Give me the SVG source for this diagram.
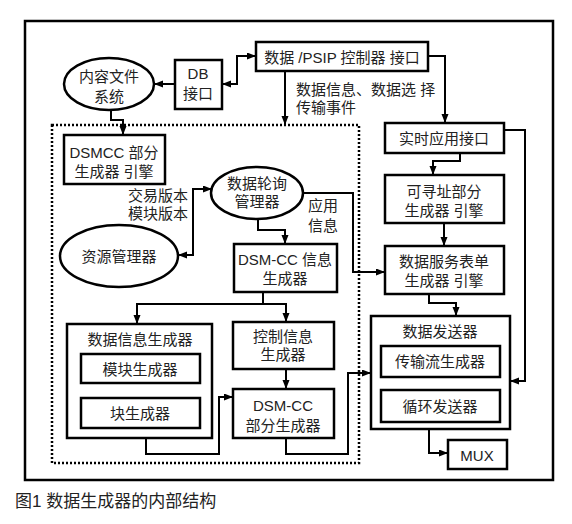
<svg xmlns="http://www.w3.org/2000/svg" width="572" height="524" viewBox="0 0 572 524">
<style>
.b{fill:#fff;stroke:#000;stroke-width:2.5}
.t{font-family:"Liberation Sans","Noto Sans CJK SC",sans-serif;font-size:15px;fill:#222;text-anchor:middle;dominant-baseline:central}
.l{text-anchor:start}
.r{text-anchor:end}
.c{fill:none;stroke:#000;stroke-width:2}
</style>
<defs>
<marker id="a" markerUnits="userSpaceOnUse" markerWidth="10" markerHeight="8" refX="9" refY="3.5" orient="auto-start-reverse">
<path d="M0,0 L9,3.5 L0,7 z" fill="#000"/>
</marker>
</defs>
<rect width="572" height="524" fill="#fff"/>
<rect x="25" y="21" width="528" height="459" fill="none" stroke="#000" stroke-width="2.5"/>
<rect x="52" y="125" width="307" height="338" fill="none" stroke="#000" stroke-width="2.5" stroke-dasharray="2 2"/>

<g id="connectors">
<path class="c" d="M222,84 H237 V56 H256" marker-start="url(#a)" marker-end="url(#a)"/>
<path class="c" d="M175,84 H154" marker-end="url(#a)"/>
<path class="c" d="M285,71 V125" marker-end="url(#a)"/>
<path class="c" d="M428,56 H445 V123" marker-end="url(#a)"/>
<path class="c" d="M460,153 V161 H433 V175" marker-end="url(#a)"/>
<path class="c" d="M504,130 H525 V381 H510" marker-end="url(#a)"/>
<path class="c" d="M444,223 V246" marker-end="url(#a)"/>
<path class="c" d="M429,294 V303 H456 V316" marker-end="url(#a)"/>
<path class="c" d="M440,377 V390" marker-end="url(#a)"/>
<path class="c" d="M429,429 V453 H448" marker-end="url(#a)"/>
<path class="c" d="M111,110 V120 H123 V135" marker-end="url(#a)"/>
<path class="c" d="M178,255 H193 V189 H212" marker-start="url(#a)" marker-end="url(#a)"/>
<path class="c" d="M258,219 V230 H285 V244" marker-end="url(#a)"/>
<path class="c" d="M302,193 H353 V272 H385" marker-end="url(#a)"/>
<path class="c" d="M263,292 V304 H137 V324" marker-end="url(#a)"/>
<path class="c" d="M263,304 H286 V322" marker-end="url(#a)"/>
<path class="c" d="M141,383 V398" marker-end="url(#a)"/>
<path class="c" d="M286,369 V389" marker-end="url(#a)"/>
<path class="c" d="M146,438 V454 H219 V397 H233" marker-end="url(#a)"/>
<path class="c" d="M286,438 V454 H348 V373 H371" marker-end="url(#a)"/>
</g>

<g id="content-fs"><ellipse class="b" cx="109" cy="84" rx="45" ry="26"/><text class="t" x="109" y="76">内容文件</text><text class="t" x="109" y="96">系统</text></g>
<g id="db"><rect class="b" x="175" y="60" width="47" height="49"/><text class="t" x="198" y="73">DB</text><text class="t" x="198" y="93">接口</text></g>
<g id="psip"><rect class="b" x="256" y="42" width="172" height="29"/><text class="t" x="342" y="57">数据 /PSIP 控制器 接口</text></g>
<g id="label-psip"><text class="t l" x="296" y="89">数据信息、数据选 择</text><text class="t l" x="296" y="107">传输事件</text></g>
<g id="realtime"><rect class="b" x="385" y="123" width="119" height="30"/><text class="t" x="444" y="138">实时应用接口</text></g>
<g id="addressable"><rect class="b" x="385" y="175" width="119" height="48"/><text class="t" x="444" y="191">可寻址部分</text><text class="t" x="444" y="210">生成器 引擎</text></g>
<g id="service-table"><rect class="b" x="385" y="246" width="119" height="48"/><text class="t" x="444" y="261">数据服务表单</text><text class="t" x="444" y="280">生成器 引擎</text></g>
<g id="sender"><rect class="b" x="371" y="316" width="139" height="113"/><text class="t" x="440" y="331">数据发送器</text></g>
<g id="ts-gen"><rect class="b" x="381" y="346" width="119" height="31"/><text class="t" x="440" y="361">传输流生成器</text></g>
<g id="cyclic"><rect class="b" x="381" y="390" width="119" height="32"/><text class="t" x="440" y="406">循环发送器</text></g>
<g id="mux"><rect class="b" x="448" y="440" width="59" height="29"/><text class="t" x="477" y="455">MUX</text></g>
<g id="dsmcc-engine"><rect class="b" x="64" y="135" width="101" height="49"/><text class="t" x="114" y="152">DSMCC 部分</text><text class="t" x="114" y="171">生成器 引擎</text></g>
<g id="label-version"><text class="t r" x="188" y="195">交易版本</text><text class="t r" x="188" y="213">模块版本</text></g>
<g id="poll"><ellipse class="b" cx="257" cy="193" rx="46" ry="26"/><text class="t" x="257" y="183">数据轮询</text><text class="t" x="257" y="201">管理器</text></g>
<g id="resource"><ellipse class="b" cx="119" cy="256" rx="59" ry="31"/><text class="t" x="119" y="256">资源管理器</text></g>
<g id="label-app"><text class="t" x="323" y="205">应用</text><text class="t" x="323" y="225">信息</text></g>
<g id="dsmcc-info"><rect class="b" x="234" y="244" width="103" height="48"/><text class="t" x="285" y="259">DSM-CC 信息</text><text class="t" x="285" y="278">生成器</text></g>
<g id="data-info"><rect class="b" x="67" y="324" width="145" height="114"/><text class="t" x="140" y="339">数据信息生成器</text></g>
<g id="module-gen"><rect class="b" x="81" y="354" width="119" height="29"/><text class="t" x="140" y="369">模块生成器</text></g>
<g id="block-gen"><rect class="b" x="81" y="398" width="119" height="30"/><text class="t" x="140" y="413">块生成器</text></g>
<g id="control-info"><rect class="b" x="233" y="322" width="101" height="47"/><text class="t" x="283" y="336">控制信息</text><text class="t" x="283" y="354">生成器</text></g>
<g id="dsmcc-part"><rect class="b" x="233" y="389" width="101" height="49"/><text class="t" x="283" y="405">DSM-CC</text><text class="t" x="283" y="425">部分生成器</text></g>
<text class="t l" x="15" y="501" style="font-size:17px">图1 数据生成器的内部结构</text>
</svg>
